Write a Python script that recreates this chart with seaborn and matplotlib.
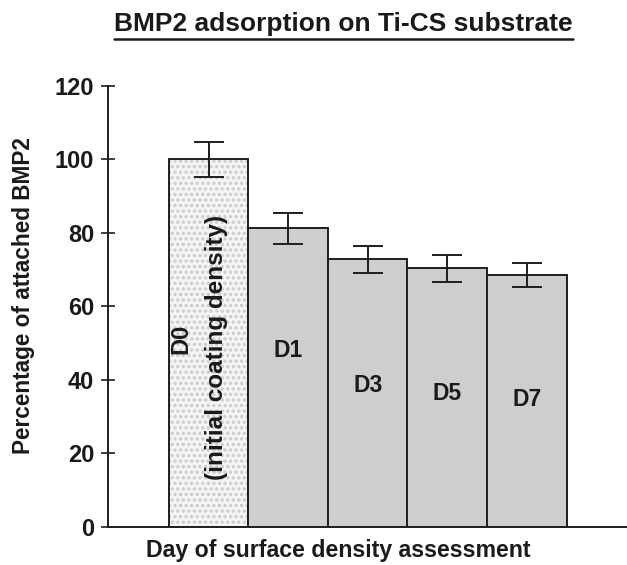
import matplotlib
matplotlib.use("Agg")
import matplotlib.pyplot as plt
import seaborn as sns
import pandas as pd
import numpy as np
from matplotlib.colors import to_rgba
from matplotlib.lines import Line2D

days = ["D0", "D1", "D3", "D5", "D7"]
percent = [100.0, 81.2, 72.7, 70.3, 68.4]
err = [4.8, 4.2, 3.7, 3.7, 3.3]
inner_labels = ["D1", "D3", "D5", "D7"]
inner_label_y = [47.8, 38.4, 36.2, 34.7]

sns.set_style("white")
plt.rcParams['font.family'] = ['Liberation Sans', 'DejaVu Sans']
plt.rcParams['font.weight'] = 'bold'
plt.rcParams['hatch.linewidth'] = 1.6

df = pd.DataFrame({"day": days, "percent": percent})

fig = plt.figure(figsize=(6.27, 5.65), dpi=100)
ax = fig.add_axes([108/627, 1-526.5/565, 519/627, (526.5-85.7)/565])

sns.barplot(data=df, x="day", y="percent", order=days, color="#cdcfce",
            saturation=1, width=1.0, edgecolor="#1e1e1e", linewidth=1.4,
            errorbar=None, ax=ax)

# D0 bar: dotted light fill
p0 = ax.patches[0]
p0.set_facecolor("#f5f5f5")
p0.set_hatch("...")
p0._hatch_color = to_rgba("#cbcbcb")
for p in ax.patches:
    p.set_zorder(2)

ax.errorbar(np.arange(len(days)), percent, yerr=err, fmt="none",
            ecolor="#1e1e1e", elinewidth=1.4, capsize=11, capthick=1.4, zorder=3)

ax.set_xlim(-1.263, 5.258)
ax.set_ylim(0, 120)
ax.set_yticks([0, 20, 40, 60, 80, 100, 120])
ax.set_xticks([])
ax.tick_params(axis='y', direction='inout', length=10, width=1.2, color="#1e1e1e",
               labelsize=17, pad=5, labelcolor="#1a1a1a", left=True)
for lab in ax.get_yticklabels():
    lab.set_fontweight('bold')

for s in ["top", "right"]:
    ax.spines[s].set_visible(False)
for s in ["left", "bottom"]:
    ax.spines[s].set_color("#1e1e1e")
    ax.spines[s].set_linewidth(1.4)

ax.set_xlabel("Day of surface density assessment", fontsize=16.7, fontweight='bold',
              color="#1a1a1a", labelpad=9)
ax.xaxis.label.set_x((338-108)/519)
ax.set_ylabel("Percentage of attached BMP2", fontsize=16.3, fontweight='bold',
              color="#1a1a1a", labelpad=14)
ax.yaxis.label.set_y(0.525)

for lab, yy, xi in zip(inner_labels, inner_label_y, range(1, 5)):
    ax.text(xi, yy, lab, ha='center', va='center', fontsize=16.5,
            fontweight='bold', color="#1a1a1a", zorder=4)

ax.text(-0.345, 51.0, "D0", rotation=90, ha='center', va='center', fontsize=17,
        fontweight='bold', color="#1a1a1a", zorder=4)
ax.text(0.094, 48.7, "(initial coating density)", rotation=90, ha='center',
        va='center', fontsize=17.5, fontweight='bold', color="#1a1a1a", zorder=4)

title = fig.text(343.5/627, 1-24/565, "BMP2 adsorption on Ti-CS substrate",
                 ha='center', va='center', fontsize=19, fontweight='bold',
                 color="#1a1a1a")
fig.canvas.draw()
bb = title.get_window_extent(renderer=fig.canvas.get_renderer())
fig_w, fig_h = fig.bbox.width, fig.bbox.height
yline = 1 - 38.8/565
fig.add_artist(Line2D([bb.x0/fig_w, bb.x1/fig_w], [yline, yline],
                      transform=fig.transFigure, color="#1a1a1a", lw=1.8))

fig.savefig("out.png", dpi=100)
